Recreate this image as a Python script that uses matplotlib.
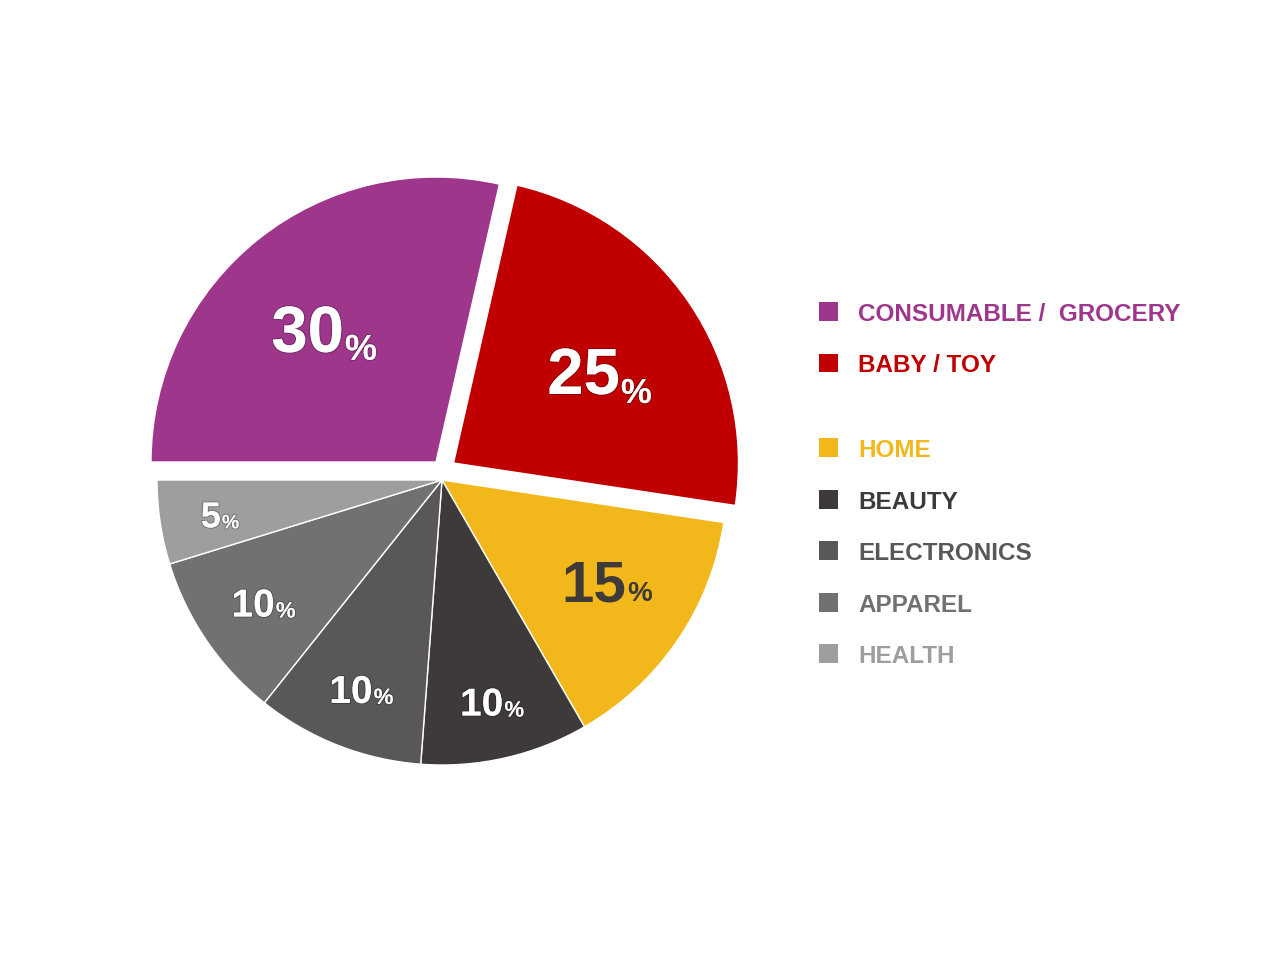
import numpy as np
import matplotlib
matplotlib.use('Agg')
import matplotlib.pyplot as plt
import matplotlib.patheffects as pe

plt.rcParams['font.family'] = ['Liberation Sans', 'DejaVu Sans']

categories = ['CONSUMABLE /  GROCERY', 'BABY / TOY', 'HOME', 'BEAUTY',
              'ELECTRONICS', 'APPAREL', 'HEALTH']
shares = [30, 25, 15, 10, 10, 10, 5]
colors = ['#9E368C', '#C00000', '#F2B81B', '#3E3A39', '#595757', '#727171', '#9E9E9F']

# layout / style (pixels at dpi 100)
W, H = 1280, 957
R = 285                      # pie radius in px
cx, cy = 442, H - 480        # pie centre in px from bottom-left
shift = [(-6, 18), (11.5, 17), (0, 0), (0, 0), (0, 0), (0, 0), (0, 0)]  # px, pulled-out slices
label_r = [0.65, 0.56, 0.64, 0.79, 0.80, 0.79, 0.82]
label_turn = [5.3, 1.1, 0.9, -2.7, -2.1, -1.3, -0.1]
num_size = [47, 47, 42, 28, 28, 28, 26]
pct_size = [26, 25, 20, 16, 16, 16, 14]
pct_drop = [8, 9, 0, 1, 1, 1, 1]
label_colors = ['white', 'white', '#3E3A39', 'white', 'white', 'white', 'white']

fig = plt.figure(figsize=(W / 100, H / 100), dpi=100)
ax = fig.add_axes([0, 0, 1, 1])
wedges, _ = ax.pie(shares, colors=colors, startangle=180, counterclock=False,
                   radius=1, wedgeprops=dict(edgecolor='white', linewidth=1.0))
ax.set_xlim(-cx / R, (W - cx) / R)
ax.set_ylim(-cy / R, (H - cy) / R)
ax.set_aspect('equal')
ax.axis('off')

for i, w in enumerate(wedges):
    w.set_center((shift[i][0] / R, shift[i][1] / R))
    mid = np.deg2rad((w.theta1 + w.theta2) / 2 + label_turn[i])
    x = w.center[0] + label_r[i] * np.cos(mid)
    y = w.center[1] + label_r[i] * np.sin(mid)
    # put the digit cap-centre on (x, y)
    em = num_size[i] * 100 / 72
    yb = y - 0.358 * em / R
    fx = []
    if label_colors[i] == 'white':
        fx = [pe.withStroke(linewidth=1.5, foreground=(0, 0, 0, 0.25))]
    num = ax.text(x, yb, str(shares[i]), ha='center', va='baseline',
                  fontsize=num_size[i], fontweight='bold', color=label_colors[i],
                  path_effects=fx)
    ax.annotate('%', xy=(1, yb), xycoords=(num, 'data'),
                xytext=(1, -pct_drop[i]), textcoords='offset pixels',
                ha='left', va='baseline', fontsize=pct_size[i], fontweight='bold',
                color=label_colors[i], path_effects=fx)

# legend
row_h = 51.5
top_px = 311.5 - 0.5 * row_h
bot_px = 700
lax = fig.add_axes([800 / W, (H - bot_px) / H, 480 / W, (bot_px - top_px) / H])
lax.set_xlim(0, 480)
lax.set_ylim(-0.5 + (bot_px - top_px) / row_h, -0.5)
lax.axis('off')
row_pos = np.arange(len(categories)) + np.where(np.arange(len(categories)) >= 2, 0.65, 0)
lax.scatter(np.full(len(categories), 28.5), row_pos, s=187, marker='s',
            c=colors, linewidths=0)
for i, name in enumerate(categories):
    lax.text(58, row_pos[i] + 0.18, name, ha='left', va='baseline',
             fontsize=17.5, fontweight='bold', color=colors[i])

fig.savefig('out.png', dpi=100, facecolor='white')
